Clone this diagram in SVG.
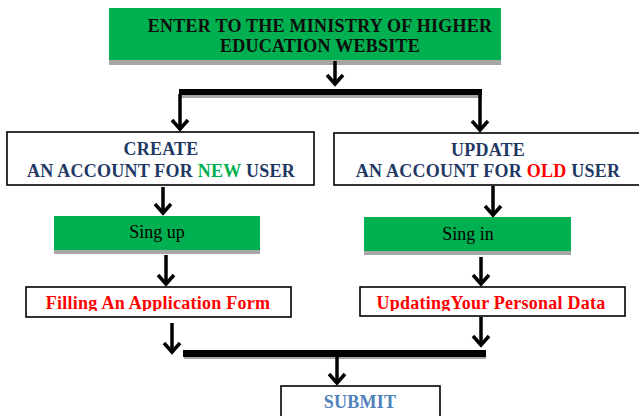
<svg xmlns="http://www.w3.org/2000/svg" width="639" height="416" viewBox="0 0 639 416">
<defs>
<style>
.green{fill:#00B050}
.shadow{fill:#A6A6A6}
.box{fill:#ffffff;stroke:#000000;stroke-width:1.6}
.t{font-family:'Liberation Serif','DejaVu Serif',serif;font-size:18px;font-weight:bold;text-anchor:middle;letter-spacing:0.25px}
.tr{font-family:'Liberation Serif','DejaVu Serif',serif;font-size:18px;text-anchor:middle;fill:#000000}
.navy{fill:#1F3864}
.red{fill:#FF0000}
.gtxt{fill:#00B050}
.blue{fill:#4F81BD}
.shaft{stroke:#000000;stroke-width:3.5;fill:none}
.head{stroke:#000000;stroke-width:3.5;fill:none;stroke-linejoin:miter;stroke-linecap:butt}
.bar{fill:#000000}
</style>
<clipPath id="clipFill"><rect x="26" y="287" width="266" height="24"/></clipPath>
<clipPath id="clipUpd"><rect x="360" y="287" width="266" height="24"/></clipPath>
</defs>

<g id="node-enter">
<rect class="shadow" x="109" y="11" width="392" height="54"/>
<rect class="green" x="109" y="8" width="392" height="52"/>
<text class="t" x="320" y="32" fill="#0d0d0d">ENTER TO THE MINISTRY OF HIGHER</text>
<text class="t" x="320" y="52" fill="#0d0d0d">EDUCATION WEBSITE</text>
</g>

<g id="node-create">
<rect class="box" x="7" y="132" width="307" height="53"/>
<text class="t navy" x="161" y="155">CREATE</text>
<text class="t navy" x="161" y="177">AN ACCOUNT FOR <tspan class="gtxt">NEW</tspan> USER</text>
</g>

<g id="node-update">
<rect class="box" x="334" y="133" width="308" height="52"/>
<text class="t navy" x="488" y="156">UPDATE</text>
<text class="t navy" x="488" y="177">AN ACCOUNT FOR <tspan class="red">OLD</tspan> USER</text>
</g>

<g id="node-signup">
<rect class="shadow" x="54" y="219" width="206" height="35"/>
<rect class="green" x="54" y="216" width="206" height="34"/>
<text class="tr" x="157" y="238">Sing up</text>
</g>

<g id="node-signin">
<rect class="shadow" x="364" y="220" width="207" height="35"/>
<rect class="green" x="364" y="217" width="207" height="34"/>
<text class="tr" x="468" y="240">Sing in</text>
</g>

<g id="node-filling">
<rect class="box" x="26" y="287" width="265" height="30"/>
<text class="t red" x="158" y="309" clip-path="url(#clipFill)">Filling An Application Form</text>
</g>

<g id="node-updating">
<rect class="box" x="360" y="287" width="265" height="29"/>
<text class="t red" x="491" y="309" clip-path="url(#clipUpd)">UpdatingYour Personal Data</text>
</g>

<g id="node-submit">
<rect class="box" x="281" y="386" width="159" height="40"/>
<text class="t blue" x="360" y="408">SUBMIT</text>
</g>

<g id="connectors">
<rect class="shadow" x="180" y="93" width="302" height="5"/>
<rect class="bar" x="179" y="89" width="303" height="6"/>
<line class="shaft" x1="335" y1="61" x2="335" y2="84"/>
<polyline class="head" points="327,75 335,84 343,75"/>
<line class="shaft" x1="180" y1="94" x2="180" y2="129"/>
<polyline class="head" points="172,120 180,129 188,120"/>
<line class="shaft" x1="480" y1="94" x2="480" y2="130"/>
<polyline class="head" points="472,121 480,130 488,121"/>
<line class="shaft" x1="163" y1="187" x2="163" y2="213"/>
<polyline class="head" points="155,204 163,213 171,204"/>
<line class="shaft" x1="493" y1="186" x2="493" y2="215"/>
<polyline class="head" points="485,206 493,215 501,206"/>
<line class="shaft" x1="166" y1="255" x2="166" y2="284"/>
<polyline class="head" points="158,275 166,284 174,275"/>
<line class="shaft" x1="481" y1="257" x2="481" y2="284"/>
<polyline class="head" points="473,275 481,284 489,275"/>
<line class="shaft" x1="172" y1="323" x2="172" y2="352"/>
<polyline class="head" points="164,343 172,352 180,343"/>
<line class="shaft" x1="481" y1="317" x2="481" y2="345"/>
<polyline class="head" points="473,336 481,345 489,336"/>
<rect class="shadow" x="184" y="355" width="302" height="4"/>
<rect class="bar" x="183" y="350" width="303" height="7"/>
<line class="shaft" x1="337" y1="356" x2="337" y2="383"/>
<polyline class="head" points="329,374 337,383 345,374"/>
</g>
</svg>
